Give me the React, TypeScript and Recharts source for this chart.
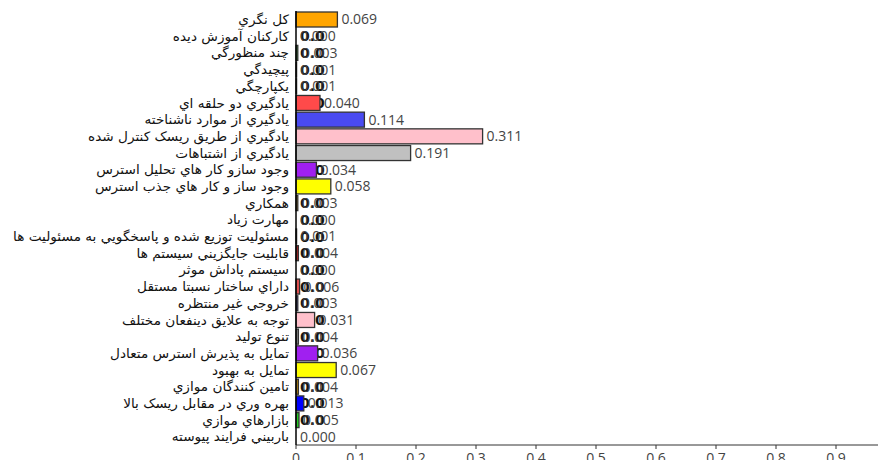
import React from "react";
import { BarChart, Bar, XAxis, YAxis, LabelList, Cell } from "recharts";

const categories = [
  "کل نگري",
  "کارکنان آموزش ديده",
  "چند منظورگي",
  "پيچيدگي",
  "يکپارچگي",
  "يادگيري دو حلقه اي",
  "يادگيري از موارد ناشناخته",
  "يادگيري از طريق ريسک کنترل شده",
  "يادگيري از اشتباهات",
  "وجود سازو کار هاي تحليل استرس",
  "وجود ساز و کار هاي جذب استرس",
  "همکاري",
  "مهارت زياد",
  "مسئوليت توزيع شده و پاسخگويي به مسئوليت ها",
  "قابليت جايگزيني سيستم ها",
  "سيستم پاداش موثر",
  "داراي ساختار نسبتا مستقل",
  "خروجي غير منتظره",
  "توجه به علايق دينفعان مختلف",
  "تنوع توليد",
  "تمايل به پذيرش استرس متعادل",
  "تمايل به بهبود",
  "تامين کنندگان موازي",
  "بهره وري در مقابل ريسک بالا",
  "بازارهاي موازي",
  "باربيني فرايند پيوسته",
];

const values = [
  0.069, 0.0, 0.003, 0.001, 0.001, 0.04, 0.114, 0.311, 0.191, 0.034, 0.058,
  0.003, 0.0, 0.001, 0.004, 0.0, 0.006, 0.003, 0.031, 0.004, 0.036, 0.067,
  0.004, 0.013, 0.005, 0.0,
];

const colors = [
  "#FFA500", "#222222", "#22A022", "#222222", "#222222", "#FF4A4A",
  "#4A4AF0", "#FFC0CB", "#C0C0C0", "#A020F0", "#FFFF00", "#B8860B",
  "#222222", "#222222", "#B22222", "#222222", "#E05050", "#3535B0",
  "#FFC0CB", "#8A8A8A", "#A020F0", "#FFFF00", "#B8860B", "#0000FF",
  "#22CC22", "#222222",
];

const xTicks = [0, 0.1, 0.2, 0.3, 0.4, 0.5, 0.6, 0.7, 0.8, 0.9, 1.0];

const data = categories.map((name, i) => ({ name, value: values[i], idx: i }));

const lastIdx = categories.length - 1;

const BarShape = (props: any) => {
  const { x, y, width, height, fill, payload } = props;
  const w = Math.max(0, width || 0);
  return (
    <g>
      {payload && payload.idx !== lastIdx && (
        <text
          x={x + 4}
          y={y + height / 2}
          dy="0.36em"
          fontSize={14}
          fontWeight="bold"
          fontFamily="'DejaVu Sans', sans-serif"
          fill="#141414"
        >
          0.0
        </text>
      )}
      {w > 0 && (
        <rect x={x} y={y} width={w} height={height} fill={fill} stroke="#333" strokeWidth={1.3} />
      )}
    </g>
  );
};

const CatTick = (props: any) => {
  const { x, y, payload } = props;
  return (
    <g transform={`translate(${x - 5},${y})`}>
      <text
        transform="scale(1.05,1)"
        x={0}
        y={0}
        dy="0.36em"
        textAnchor="end"
        fontSize={13}
        fill="#111"
        fontFamily="'DejaVu Sans', sans-serif"
      >
        {payload.value}
      </text>
    </g>
  );
};

const fmt = (v: any) => Number(v).toFixed(3);

export default function App() {
  return (
    <div style={{ width: 878, height: 452, overflow: "hidden" }}>
      <BarChart
        width={900}
        height={480}
        data={data}
        layout="vertical"
        margin={{ top: 3, right: 12, left: 0, bottom: 13 }}
        barSize={15}
      >
        <XAxis
          type="number"
          domain={[0, 1]}
          ticks={xTicks}
          tickFormatter={(v: number) => (v === 0 ? "0" : String(v))}
          axisLine={{ stroke: "#333" }}
          tickLine={{ stroke: "#333" }}
          tickSize={4}
          tickMargin={4}
          height={30}
          tick={{ fontSize: 14, fill: "#444", fontFamily: "'Open Sans', sans-serif" }}
        />
        <YAxis
          type="category"
          dataKey="name"
          width={288}
          interval={0}
          axisLine={{ stroke: "#000", strokeWidth: 1.5 }}
          tickLine={false}
          tickSize={0}
          tick={<CatTick />}
        />
        <Bar dataKey="value" isAnimationActive={false} shape={BarShape}>
          {data.map((d, i) => (
            <Cell key={i} fill={colors[i]} />
          ))}
          <LabelList
            dataKey="value"
            position="right"
            offset={4}
            formatter={fmt}
            style={{ fontSize: 14, fill: "#444", fontFamily: "'Open Sans', sans-serif" }}
          />
        </Bar>
      </BarChart>
    </div>
  );
}
